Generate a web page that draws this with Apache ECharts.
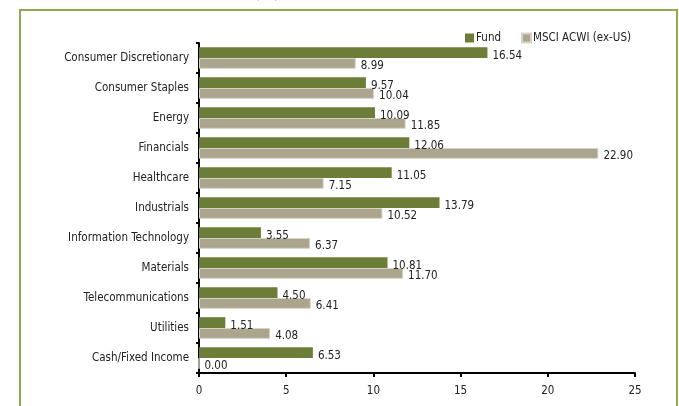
<!DOCTYPE html>
<html>
<head>
<meta charset="utf-8">
<script src="https://cdn.jsdelivr.net/npm/echarts@6/dist/echarts.min.js"></script>
<style>
html,body{margin:0;padding:0;background:#fff;}
#c{width:679px;height:406px;}
</style>
</head>
<body>
<div id="c"></div>
<script>
var categories = ["Consumer Discretionary","Consumer Staples","Energy","Financials","Healthcare","Industrials","Information Technology","Materials","Telecommunications","Utilities","Cash/Fixed Income"];
var fundValues = [16.54, 9.57, 10.09, 12.06, 11.05, 13.79, 3.55, 10.81, 4.50, 1.51, 6.53];
var msciValues = [8.99, 10.04, 11.85, 22.90, 7.15, 10.52, 6.37, 11.70, 6.41, 4.08, 0.00];
var seriesNames = ["Fund", "MSCI ACWI (ex-US)"];
var xTicks = [0, 5, 10, 15, 20, 25];

var FONT = "'DejaVu Sans Condensed','Liberation Sans Narrow',sans-serif";
var chart = echarts.init(document.getElementById('c'));
var labelCfg = {
  show: true, position: 'right', distance: 5, offset: [0, 3],
  color: '#222', fontFamily: FONT, fontSize: 11.5,
  formatter: function(p){ return p.value.toFixed(2); }
};
chart.setOption({
  animation: false,
  graphic: [
    {type:'rect', shape:{x:20,y:10,width:657,height:430}, style:{fill:'none', stroke:'#8dab52', lineWidth:2}},
    {type:'text', x:267, y:-14, style:{text:'(%)', fill:'#8dab52', font:'16px ' + FONT, textAlign:'center'}}
  ],
  legend: {
    data: seriesNames,
    right: 48, top: 32, padding: 0,
    icon: 'rect', itemWidth: 9, itemHeight: 9, itemGap: 20,
    textStyle: {fontFamily: FONT, fontSize: 11.5, color: '#222', padding:[0,0,0,-3]}
  },
  grid: {left: 199, right: 44, top: 43, bottom: 33, containLabel: false},
  xAxis: {
    type: 'value', min: xTicks[0], max: xTicks[xTicks.length-1], interval: 5,
    axisLine: {show: true, lineStyle: {color: '#000', width: 2}},
    axisTick: {show: true, length: 4, lineStyle: {color: '#000', width: 2}},
    splitLine: {show: false},
    axisLabel: {margin: 12, fontFamily: FONT, fontSize: 11.5, color: '#222'}
  },
  yAxis: {
    type: 'category', data: categories, inverse: true,
    axisLine: {show: true, lineStyle: {color: '#000', width: 2}},
    axisTick: {show: true, length: 3, lineStyle: {color: '#000', width: 2}},
    axisLabel: {margin: 10, fontFamily: FONT, fontSize: 11.5, color: '#222'}
  },
  series: [
    {name: seriesNames[0], type: 'bar', data: fundValues, barGap: '0%', barCategoryGap: '28%',
     itemStyle: {color: '#6b7d36'}, label: labelCfg},
    {name: seriesNames[1], type: 'bar', data: msciValues,
     itemStyle: {color: '#aca58e', borderColor: '#d6d3c8', borderWidth: 1}, label: labelCfg}
  ]
});
</script>
</body>
</html>
